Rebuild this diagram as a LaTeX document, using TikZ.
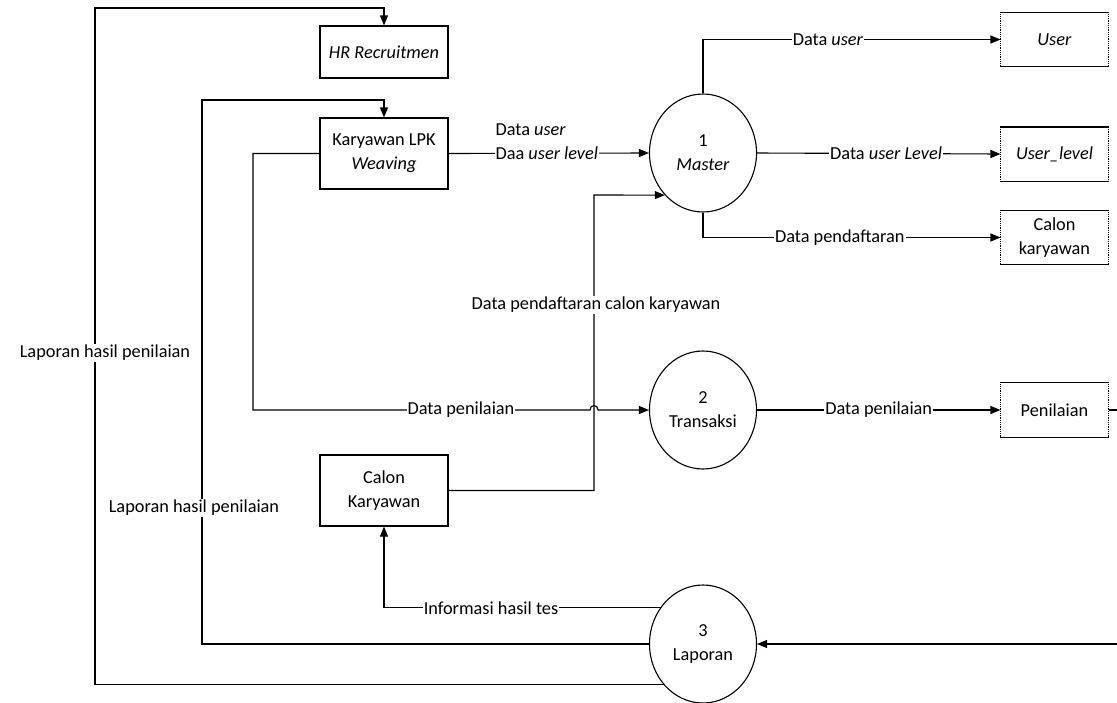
\documentclass[tikz,border=0pt]{standalone}
\usepackage{fontspec}
\setmainfont{Carlito}
\usetikzlibrary{arrows.meta,shapes.geometric}
\begin{document}
\begin{tikzpicture}[x=1pt,y=-1pt, line width=1.1pt,
  font=\fontsize{18.3}{24}\selectfont,
  box/.style={draw, minimum width=128pt, minimum height=52pt, inner sep=0pt, align=center},
  proc/.style={draw, ellipse, minimum width=107pt, minimum height=118pt, inner sep=0pt, align=center},
  store/.style={minimum width=107pt, minimum height=53pt, inner sep=0pt, align=center},
  lbl/.style={fill=white, inner sep=1pt},
  arr/.style={-{Triangle[length=10pt,width=8pt]}}]
\useasboundingbox (0,0) rectangle (1117,702);
\clip (0,0) rectangle (1117,702);

% external entities
\node[box] (hr) at (384,52) {\textit{HR Recruitmen}};
\node[box, minimum height=71pt] (k) at (384,153.5) {Karyawan LPK\\\textit{Weaving}};
\node[box, minimum height=71pt] (ck) at (384,490.5) {Calon\\Karyawan};

% processes
\node[proc] (m) at (703,153) {1\\\textit{Master}};
\node[proc] (t) at (703,410) {2\\Transaksi};
\node[proc] (l) at (703,644) {3\\Laporan};

% data stores
\node[store] (su) at (1054.5,39.5) {\textit{User}};
\node[store] (sl) at (1054.5,154) {\textit{User\_level}};
\node[store] (sc) at (1054.5,237.5) {Calon\\karyawan};
\node[store, minimum height=54pt] (sp) at (1054.5,410) {Penilaian};
\foreach \n in {su,sl,sc,sp}{
  \draw (\n.north west) -- (\n.north east);
  \draw (\n.south west) -- (\n.south east);
  \draw[densely dotted, line width=0.8pt] (\n.north west) -- (\n.south west);
  \draw[densely dotted, line width=0.8pt] (\n.north east) -- (\n.south east);
}

% coordinates
\coordinate (j) at (594,195);
\coordinate (xl) at (253,0);
\coordinate (xi) at (202,100);
\coordinate (xo) at (95,8);
\coordinate (xr) at (1140,0);

% Karyawan -> Master
\draw[arr] (k.east) -- (m.west);
\node[lbl, anchor=west] (lab1) at (494,153) {Daa \textit{user level}};
\node[anchor=west, inner sep=1pt] (lab0) at (494,130) {Data \textit{user}};

% Master -> stores
\draw[arr] (m.north) |- (su.west) node[lbl, pos=0.71] (lab2) {Data \textit{user}};
\draw[arr] (m.east) -- (sl.west) node[lbl, pos=0.53] (lab3) {Data \textit{user Level}};
\draw[arr] (m.south) |- (sc.west) node[lbl, pos=0.73] (lab4) {Data pendaftaran};

% Calon Karyawan -> Master
\draw[arr] (ck.east) -- (ck.east -| j) -- (j) -- (m.south west);
\node[lbl] (lab5) at (596,305) {Data pendaftaran calon karyawan};

% Karyawan -> Transaksi (with jump)
\draw[arr] (k.west) -- (xl |- k.west) -- (xl |- t.west) -- (590,410)
  .. controls (590,404) and (598,404) .. (598,410) -- (t.west);
\node[lbl] (lab6) at (461,410) {Data penilaian};

% Transaksi -> Penilaian
\draw[arr] (t.east) -- (sp.west) node[lbl, pos=0.5] (lab7) {Data penilaian};

% Penilaian -> Laporan (via off-page)
\draw[arr] (sp.east) -- (xr |- sp.east) -- (xr |- l.east) -- (l.east);

% Laporan -> Calon Karyawan
\draw[arr] (l.139.7) -- (ck.south |- l.139.7) -- (ck.south);
\node[lbl] (lab8) at (491,608) {Informasi hasil tes};

% Laporan -> Karyawan
\draw[arr] (l.west) -- (xi |- l.west) -- (xi) -- (xi -| k.north) -- (k.north);
\node[lbl] (lab9) at (194,508) {Laporan hasil penilaian};

% Laporan -> HR
\draw[arr] (l.226.8) -- (xo |- l.226.8) -- (xo) -- (xo -| hr.north) -- (hr.north);
\node[lbl] (lab10) at (105,353) {Laporan hasil penilaian};
\end{tikzpicture}
\end{document}
